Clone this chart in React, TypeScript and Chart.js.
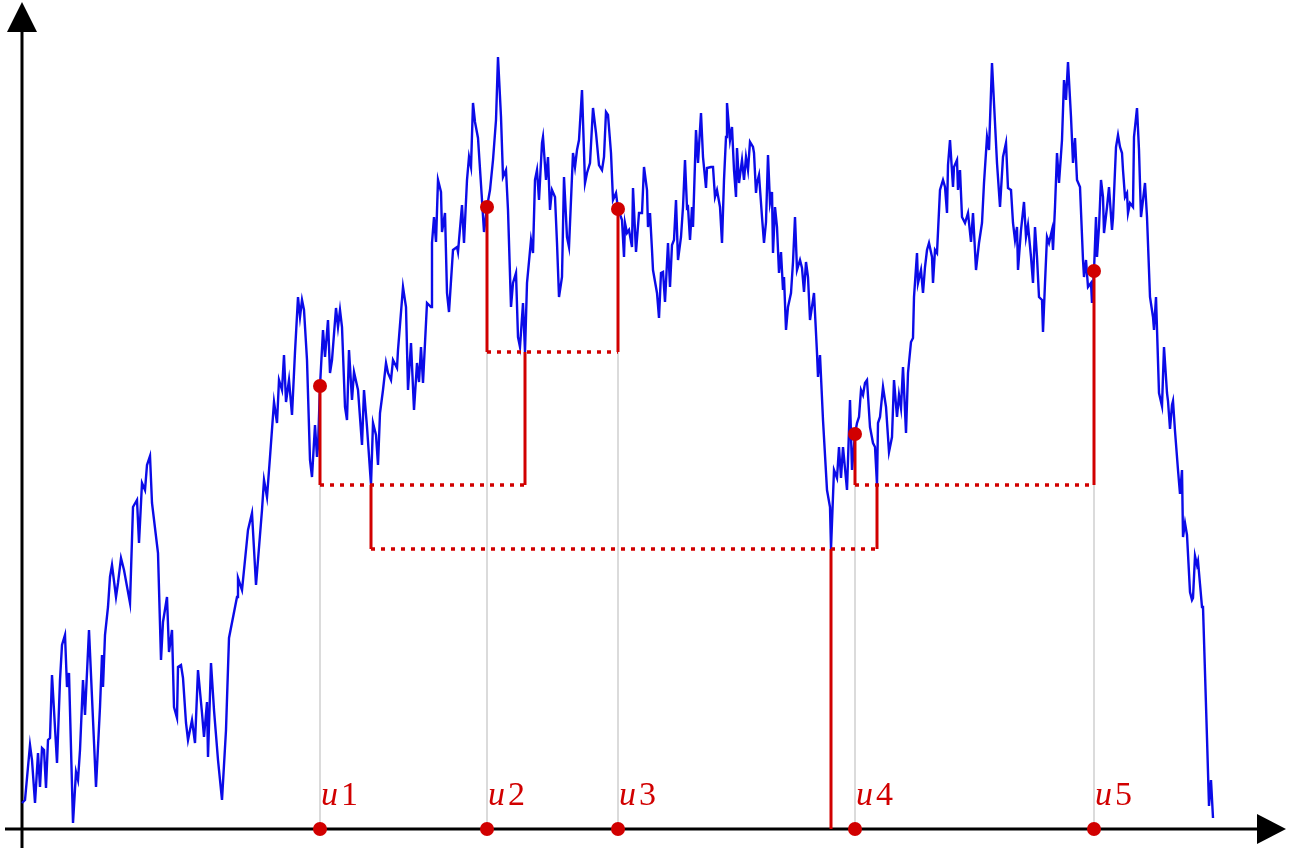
import React, { useEffect, useRef } from "react";
import { Chart, registerables } from "chart.js";

Chart.register(...registerables);

// Brownian-like path: step index and value
const pathT = [
  0, 3, 8, 10, 13, 16, 18, 20, 22, 24, 26, 28, 30, 35, 38, 40, 43, 45, 47, 51, 54, 56, 58, 61, 63, 67, 74, 78, 80, 81, 83, 86, 88, 90, 91, 94, 96, 99, 102, 108, 111, 115, 117, 120, 123, 125, 128, 130, 136, 139, 141, 145, 147, 150, 152, 155, 156, 159, 161, 164, 166, 170, 173, 176, 180, 182, 185, 186, 189, 192, 196, 200, 204, 207,
  215, 216, 220, 225, 226, 230, 234, 240, 242, 245, 248, 252, 255, 257, 260, 262, 264, 267, 270, 273, 276, 278, 280, 282, 285, 288, 290, 293, 295, 296, 298, 301, 303, 306, 308, 310, 314, 316, 318, 320, 323, 325, 327, 330, 332, 336, 340, 342, 345, 349, 351, 354, 356, 358, 361, 364, 366, 369, 371, 375, 376,
  381, 384, 386, 389, 392, 395, 397, 399, 401, 405, 409, 410, 412, 414, 416, 419, 420, 423, 425, 427, 431, 435, 436, 440, 442, 445, 447, 449, 451, 453, 456, 460, 462, 465, 468, 471, 474, 476, 479, 481, 484, 486, 489, 491, 494, 496, 498, 501, 503, 505, 509, 511, 513, 515, 517, 520, 521, 524, 526, 528, 530, 533, 535, 537, 540, 542, 545, 547, 551, 553, 555, 557, 560, 563, 565, 568, 571, 574, 577, 580, 582, 584, 586, 589, 591, 594, 596,
  600, 602, 603, 605, 607, 610, 611, 614, 617, 620, 622, 625, 626, 628, 630, 631, 635, 637, 639, 641, 643, 646, 648, 650, 652, 654, 656, 659, 661, 663, 665, 666, 668, 670, 671, 674, 676, 679, 681, 684, 685, 689, 691, 693, 695, 698, 700, 702, 704, 705, 708, 710, 712, 714, 715, 717, 720, 722, 724, 726, 728, 731, 732, 734, 735, 737, 740, 742, 744, 746, 748, 750, 751, 753, 755, 757, 759, 761, 762, 764, 766, 769, 771, 773, 775, 778, 780, 782, 784, 786, 788, 791, 792, 795, 796, 798,
  801, 805, 808, 809, 812, 815, 817, 819, 821, 825, 828, 830, 833, 835, 837, 839, 841, 843, 845, 848, 851, 853, 855, 856, 858, 861, 864, 867, 870, 872, 875, 877, 879, 881, 884, 886, 889, 891,
  892, 895, 896, 899, 901, 903, 905, 907, 910, 911, 913, 915, 918, 921, 923, 925, 926, 928, 931, 932, 935, 936, 938, 940, 943, 946, 949, 951, 954, 957, 960, 962, 965, 967, 970, 972, 975, 978, 981, 984, 986, 989, 991, 993, 995, 996, 999, 1002, 1004, 1006, 1009, 1011, 1013, 1015, 1017, 1020, 1021, 1023, 1025, 1027, 1030, 1031, 1033, 1035, 1037, 1040, 1042, 1044, 1046, 1049, 1051, 1053, 1055, 1058, 1061, 1062, 1064, 1066, 1069, 1070, 1072, 1074, 1075, 1077, 1079, 1081, 1082, 1085, 1087, 1090, 1091, 1094, 1096, 1098, 1100, 1101, 1103, 1105, 1106, 1108, 1111, 1112, 1115, 1117, 1119, 1121, 1123, 1125,
  1128, 1131, 1132, 1134, 1137, 1140, 1142, 1145, 1146, 1148, 1150, 1151, 1153, 1156, 1158, 1160, 1161, 1163, 1165, 1168, 1170, 1171, 1173, 1175, 1176, 1178, 1180, 1181, 1185, 1187, 1189, 1191,
];
const pathV = [
  26, 29, 84, 69, 26, 76, 42, 81, 79, 41, 89, 91, 154, 66, 149, 184, 194, 142, 156, 6, 57, 49, 79, 149, 114, 199, 42, 122, 174, 142, 194, 222, 252, 264, 256, 232, 246, 271, 259, 226, 322, 329, 286, 346, 339, 364, 373, 326, 276, 169, 207, 232, 177, 199, 122, 111, 162, 164, 151, 106, 89, 109, 86, 159, 116, 92, 127, 72, 166, 119, 69, 29, 99, 191,
  232, 251, 239, 289, 299, 316, 244, 319, 349, 332, 372, 427, 406, 449, 439, 474, 427, 449, 414, 477, 532, 512, 529, 519, 469, 369, 352, 404, 372, 382, 443, 499, 472, 509, 456, 469, 521, 502, 519, 502, 422, 409, 479, 429, 457, 439, 384, 439, 402, 344, 406, 394, 364, 416, 439, 466, 456, 449, 469, 461, 479,
  542, 522, 439, 486, 419, 466, 447, 482, 446, 526, 522, 586, 612, 587, 649, 637, 597, 616, 536, 517, 579, 582, 577, 624, 586, 649, 672, 662, 726, 707, 691, 629, 597, 622, 639, 669, 709, 772, 712, 652, 659, 619, 522, 546, 556, 492, 482, 526, 477, 546, 589, 576, 649, 659, 629, 686, 692, 649, 672, 619, 639, 632, 586, 532, 552, 652, 592, 582, 676, 662, 679, 689, 739, 646, 656, 666, 721, 696, 664, 659, 672, 717, 714, 676, 629, 636, 620,
  609, 572, 606, 596, 599, 582, 641, 577, 616, 616, 662, 639, 602, 616, 579, 559, 536, 511, 556, 557, 527, 586, 542, 584, 589, 629, 569, 592, 622, 669, 621, 622, 589, 622, 602, 699, 666, 716, 672, 641, 661, 662, 662, 632, 639, 622, 586, 649, 692, 726, 689, 702, 659, 632, 681, 646, 669, 649, 672, 659, 687, 682, 676, 636, 646, 654, 612, 586, 607, 674, 626, 637, 576, 622, 602, 556, 577, 539, 552, 499, 522, 536, 567, 612, 559, 569, 561, 537, 567, 552, 509, 529, 536, 476, 452, 474,
  409, 339, 322, 280, 359, 351, 382, 351, 382, 339, 429, 359, 395, 406, 412, 439, 434, 446, 449, 402, 386, 382, 344, 406, 412, 442, 422, 377, 392, 449, 412, 434, 421, 462, 396, 456, 487, 491,
  532, 576, 546, 559, 536, 562, 579, 586, 572, 546, 579, 576, 639, 649, 642, 616, 664, 689, 642, 662, 669, 639, 659, 612, 606, 616, 587, 616, 559, 586, 606, 646, 692, 679, 766, 726, 666, 622, 672, 686, 641, 639, 606, 589, 602, 559, 599, 627, 592, 604, 572, 546, 602, 572, 532, 529, 497, 546, 592, 586, 599, 579, 622, 676, 646, 689, 749, 729, 767, 712, 666, 691, 649, 642, 569, 552, 569, 542, 546, 526, 558, 612, 572, 602, 649, 632, 596, 622, 642, 599, 611, 682, 694, 682, 676, 659, 632, 636, 616, 626, 622, 692, 721, 679, 612, 629, 646, 612,
  532, 512, 499, 532, 436, 423, 482, 436, 428, 400, 424, 428, 398, 359, 335, 359, 292, 306, 294, 237, 229, 231, 273, 264, 268, 245, 222, 222, 91, 23, 49, 11,
];

// Marked times u1..u5
const uLabels = ["u1", "u2", "u3", "u4", "u5"];
const uT = [298, 465, 596, 833, 1072];
const uValue = [443, 622, 620, 395, 558];
const uLevel = [344, 477, 477, 344, 344];

// Dotted horizontal levels
const levelV = [344, 477, 280, 344];
const levelFrom = [298, 465, 349, 833];
const levelTo = [503, 596, 855, 1072];

// Solid connecting stems
const stemT = [503, 349, 855, 809];
const stemFrom = [344, 280, 280, 0];
const stemTo = [477, 344, 344, 280];

// Axis extents (data units)
const X_MIN = -22, X_MAX = 1277, Y_MIN = -23, Y_MAX = 829;
const X_AXIS_FROM = -17, X_AXIS_TIP = 1264;
const Y_AXIS_FROM = -19, Y_AXIS_TIP = 827;

const RED = "#d10000";
const BLUE = "#0b0be8";
const ITALIC_FONT = 'italic 34px "Liberation Serif"';
const UPRIGHT_FONT = '34px "Liberation Serif"';

const axesPlugin = {
  id: "arrowAxes",
  beforeDatasetsDraw(chart: any) {
    const ctx = chart.ctx;
    const xs = chart.scales.x, ys = chart.scales.y;
    const x0 = xs.getPixelForValue(0), y0 = ys.getPixelForValue(0);
    ctx.save();
    ctx.strokeStyle = "#000";
    ctx.fillStyle = "#000";
    ctx.lineWidth = 3;
    // x axis
    const xa = xs.getPixelForValue(X_AXIS_FROM), xt = xs.getPixelForValue(X_AXIS_TIP);
    ctx.beginPath();
    ctx.moveTo(xa, y0);
    ctx.lineTo(xt - 20, y0);
    ctx.stroke();
    ctx.beginPath();
    ctx.moveTo(xt, y0);
    ctx.lineTo(xt - 29, y0 - 15);
    ctx.lineTo(xt - 29, y0 + 15);
    ctx.closePath();
    ctx.fill();
    // y axis
    const ya = ys.getPixelForValue(Y_AXIS_FROM), yt = ys.getPixelForValue(Y_AXIS_TIP);
    ctx.beginPath();
    ctx.moveTo(x0, ya);
    ctx.lineTo(x0, yt + 20);
    ctx.stroke();
    ctx.beginPath();
    ctx.moveTo(x0, yt);
    ctx.lineTo(x0 - 15, yt + 30);
    ctx.lineTo(x0 + 15, yt + 30);
    ctx.closePath();
    ctx.fill();
    ctx.restore();
  },
  afterDraw(chart: any) {
    const ctx = chart.ctx;
    const xs = chart.scales.x, ys = chart.scales.y;
    const y0 = ys.getPixelForValue(0);
    ctx.save();
    ctx.fillStyle = RED;
    ctx.textBaseline = "alphabetic";
    ctx.textAlign = "left";
    uLabels.forEach((lab, i) => {
      const px = xs.getPixelForValue(uT[i]) + 1;
      const base = y0 - 24;
      ctx.font = ITALIC_FONT;
      const letter = lab.slice(0, 1);
      ctx.fillText(letter, px, base);
      const w = ctx.measureText(letter).width;
      ctx.font = UPRIGHT_FONT;
      ctx.fillText(lab.slice(1), px + w + 3, base);
    });
    ctx.restore();
  },
};

export default function App() {
  const ref = useRef<HTMLCanvasElement | null>(null);
  useEffect(() => {
    if (!ref.current) return;
    let alive = true;
    const path = pathT.map((t, i) => ({ x: t, y: pathV[i] }));
    const datasets: any[] = [];
    // blue path
    datasets.push({
      data: path,
      showLine: true,
      borderColor: BLUE,
      borderWidth: 2.4,
      pointRadius: 0,
      tension: 0,
      order: 10,
    });
    // gray guide lines + red value stems
    uT.forEach((t, i) => {
      datasets.push({
        data: [{ x: t, y: 0 }, { x: t, y: uLevel[i] }],
        showLine: true,
        borderColor: "#cfcfcf",
        borderWidth: 1.5,
        pointRadius: 0,
        order: 20,
      });
      datasets.push({
        data: [{ x: t, y: uLevel[i] }, { x: t, y: uValue[i] }],
        showLine: true,
        borderColor: RED,
        borderWidth: 3,
        pointRadius: 0,
        order: 5,
      });
    });
    levelV.forEach((v, i) => {
      datasets.push({
        data: [{ x: levelFrom[i], y: v }, { x: levelTo[i], y: v }],
        showLine: true,
        borderColor: RED,
        borderWidth: 3.5,
        borderDash: [4, 6],
        borderCapStyle: "butt",
        pointRadius: 0,
        order: 6,
      });
    });
    stemT.forEach((t, i) => {
      datasets.push({
        data: [{ x: t, y: stemFrom[i] }, { x: t, y: stemTo[i] }],
        showLine: true,
        borderColor: RED,
        borderWidth: 3,
        pointRadius: 0,
        order: 5,
      });
    });
    // dots at values and on the axis
    datasets.push({
      data: uT.map((t, i) => ({ x: t, y: uValue[i] })).concat(uT.map((t) => ({ x: t, y: 0 }))),
      showLine: false,
      pointRadius: 7,
      pointBackgroundColor: RED,
      pointBorderWidth: 0,
      order: 1,
    });

    const chart = new Chart(ref.current, {
      type: "scatter",
      data: { datasets },
      options: {
        responsive: false,
        animation: false,
        layout: { padding: 0, autoPadding: false },
        plugins: { legend: { display: false }, tooltip: { enabled: false }, title: { display: false } },
        scales: {
          x: { type: "linear", min: X_MIN, max: X_MAX, display: false },
          y: { type: "linear", min: Y_MIN, max: Y_MAX, display: false },
        },
        events: [],
      },
      plugins: [axesPlugin],
    } as any);

    // redraw once the serif faces are available so the labels use them
    const redraw = () => { if (alive) chart.draw(); };
    const fonts: any = (document as any).fonts;
    if (fonts && fonts.load) {
      Promise.all([fonts.load(ITALIC_FONT, "u"), fonts.load(UPRIGHT_FONT, "12345")])
        .then(redraw)
        .catch(() => {});
    }
    const timer = setTimeout(redraw, 150);
    return () => { alive = false; clearTimeout(timer); chart.destroy(); };
  }, []);
  return (
    <div style={{ position: "absolute", left: 0, top: 0, width: 1299, height: 852, background: "#fff" }}>
      <canvas ref={ref} width={1299} height={852} style={{ display: "block" }} />
    </div>
  );
}
